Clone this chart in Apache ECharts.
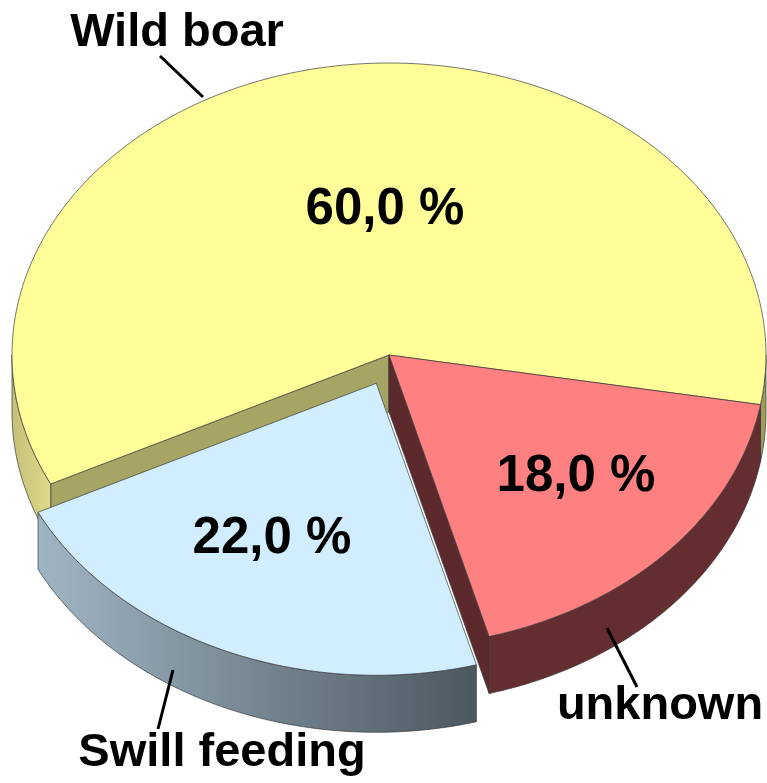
<!DOCTYPE html>
<html>
<head>
<meta charset="utf-8">
<script src="https://cdn.jsdelivr.net/npm/echarts@6/dist/echarts.min.js"></script>
<style>
    html, body { margin: 0; padding: 0; background: #ffffff; }
    #chart { width: 767px; height: 783px; }
</style>
</head>
<body>
<div id="chart"></div>
<script>
// data (clockwise from the right-hand edge)
const categories = ['unknown', 'Swill feeding', 'Wild boar']
const values = [18.0, 22.0, 60.0]

// tilted pie layout
const cx = 389, cy = 355, rx = 377, ry = 292, depth = 57
const startDeg = 9.8
const edge = '#3a3a3a'
const font = '"Liberation Sans", Arial, Helvetica, sans-serif'

const sliceStyle = {
    'unknown': {
        order: 2, explode: 0,
        top: '#ff8080', wall: '#642e31', face: '#5c2a2d',
        pct: [576, 477], label: [660, 706], leader: [[607, 628], [637, 687]]
    },
    'Swill feeding': {
        order: 1, explode: 31,
        top: '#d0eeff',
        wall: {
            type: 'linear', x: 0, y: 0, x2: 1, y2: 0,
            colorStops: [{offset: 0, color: '#a0b5c3'}, {offset: 1, color: '#4c5860'}]
        },
        face: '#4c5860',
        pct: [272, 539], label: [222, 753], leader: [[173, 670], [158, 729]]
    },
    'Wild boar': {
        order: 0, explode: 0,
        top: '#ffff99',
        wall: {
            type: 'linear', x: 12, y: 0, x2: 766, y2: 0, global: true,
            colorStops: [
                {offset: 0, color: '#c4c077'},
                {offset: 0.05, color: '#ddd98a'},
                {offset: 0.3, color: '#d0cc80'},
                {offset: 1, color: '#9e9b5d'}
            ]
        },
        face: '#a7a564',
        pct: [385, 210], label: [177, 33], leader: [[160, 56], [203, 97]]
    }
}

const total = values.reduce((s, v) => s + v, 0)
let acc = startDeg
const angles = values.map(v => {
    const a0 = acc
    acc += v / total * 360
    return [a0, acc]
})

const rad = d => d * Math.PI / 180

function arc(a0, a1, ox, oy, dy) {
    const pts = []
    const n = Math.max(2, Math.ceil(Math.abs(a1 - a0)))
    for (let k = 0; k <= n; k++) {
        const t = rad(a0 + (a1 - a0) * k / n)
        pts.push([cx + ox + rx * Math.cos(t), cy + oy + ry * Math.sin(t) + dy])
    }
    return pts
}

// parts of [a0, a1] that face the viewer (lower half of the ellipse)
function frontParts(a0, a1) {
    const parts = []
    for (let k = -1; k <= 2; k++) {
        const lo = Math.max(a0, 360 * k), hi = Math.min(a1, 360 * k + 180)
        if (hi > lo) parts.push([lo, hi])
    }
    return parts
}

function pctText(v) {
    return v.toFixed(1).replace('.', ',') + ' %'
}

function renderItem(params, api) {
    const i = params.dataIndex
    const name = categories[i]
    const st = sliceStyle[name]
    const a0 = angles[i][0], a1 = angles[i][1]
    const mid = rad((a0 + a1) / 2)
    const ox = st.explode * Math.cos(mid), oy = st.explode * Math.sin(mid)
    const zb = st.order * 10
    const c = [cx + ox, cy + oy]
    const children = []

    const face = a => {
        const p = arc(a, a, ox, oy, 0)[0]
        return {
            type: 'polygon', z2: zb + 1,
            shape: {points: [c, p, [p[0], p[1] + depth], [c[0], c[1] + depth]]},
            style: {fill: st.face, stroke: edge, lineWidth: 0.7}
        }
    }
    if (Math.cos(rad(a0)) < 0) children.push(face(a0))
    if (Math.cos(rad(a1)) > 0) children.push(face(a1))

    frontParts(a0, a1).forEach(p => {
        const top = arc(p[0], p[1], ox, oy, 0)
        const bot = arc(p[0], p[1], ox, oy, depth).reverse()
        children.push({
            type: 'polygon', z2: zb + 2,
            shape: {points: top.concat(bot)},
            style: {fill: st.wall, stroke: edge, lineWidth: 0.7}
        })
    })

    children.push({
        type: 'polygon', z2: zb + 3,
        shape: {points: [c].concat(arc(a0, a1, ox, oy, 0))},
        style: {fill: st.top, stroke: edge, lineWidth: 0.7}
    })

    children.push({
        type: 'text', z2: zb + 4, x: st.pct[0], y: st.pct[1],
        style: {
            text: pctText(api.value(0)), fill: '#000000',
            font: 'bold 51px ' + font, align: 'center', verticalAlign: 'middle'
        }
    })

    children.push({
        type: 'line', z2: 100,
        shape: {x1: st.leader[0][0], y1: st.leader[0][1], x2: st.leader[1][0], y2: st.leader[1][1]},
        style: {stroke: '#000000', lineWidth: 3}
    })
    children.push({
        type: 'text', z2: 100, x: st.label[0], y: st.label[1],
        style: {
            text: name, fill: '#000000',
            font: 'bold 47px ' + font, align: 'center', verticalAlign: 'middle'
        }
    })

    return {type: 'group', children: children}
}

const chart = echarts.init(document.getElementById('chart'), null, {renderer: 'canvas'})
chart.setOption({
    animation: false,
    series: [{
        type: 'custom',
        coordinateSystem: 'none',
        silent: true,
        data: values.map((v, i) => ({name: categories[i], value: [v]})),
        renderItem: renderItem
    }]
})
</script>
</body>
</html>
